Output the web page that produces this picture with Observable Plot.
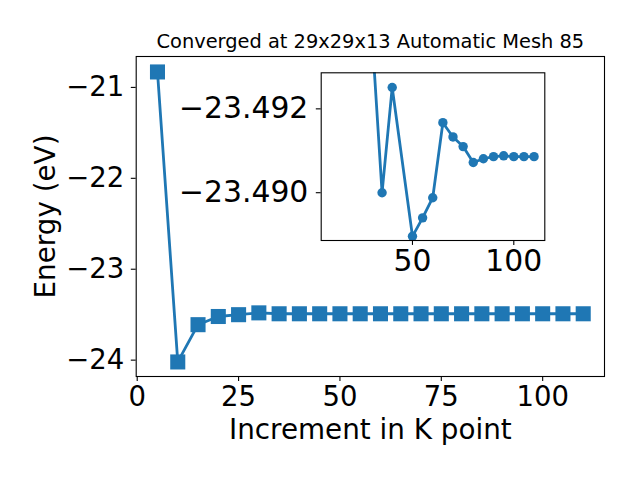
<!DOCTYPE html>
<html>
<head>
<meta charset="utf-8">
<script src="https://cdn.jsdelivr.net/npm/d3@7"></script>
<script src="https://cdn.jsdelivr.net/npm/@observablehq/plot@0.6"></script>
<style>
  html, body { margin: 0; padding: 0; background: white; }
  #wrap { position: relative; width: 640px; height: 480px; overflow: hidden; font-family: "DejaVu Sans", sans-serif; }
  #wrap svg { position: absolute; background: transparent; }
</style>
</head>
<body>
<div id="wrap"></div>
<script>
// ---- data ----
const kPoints = [5, 10, 15, 20, 25, 30, 35, 40, 45, 50, 55, 60, 65, 70, 75, 80, 85, 90, 95, 100, 105, 110];
const energy = [-20.83, -24.02, -23.61, -23.52, -23.50, -23.48, -23.49, -23.49, -23.49, -23.49, -23.49,
                -23.49, -23.49, -23.49, -23.49, -23.49, -23.49, -23.49, -23.49, -23.49, -23.49, -23.49];
const xTicks = [0, 25, 50, 75, 100];
const yTicks = [-21, -22, -23, -24];

const insetK = [30, 35, 40, 50, 55, 60, 65, 70, 75, 80, 85, 90, 95, 100, 105, 110];
const insetE = [-23.4938, -23.4900, -23.49251, -23.48896, -23.4894, -23.48988, -23.49167, -23.49133,
                -23.4911, -23.49072, -23.49081, -23.49086, -23.49088, -23.49086, -23.49086, -23.49086];
const insetXTicks = [50, 100];
const insetYTicks = [-23.492, -23.490];

const titleText = "Converged at 29x29x13 Automatic Mesh 85";
const xLabel = "Increment in K point";
const yLabel = "Energy (eV)";

const mainData = kPoints.map((k, i) => ({k, e: energy[i]}));
const insetData = insetK.map((k, i) => ({k, e: insetE[i]}));

const blue = "#1f77b4";
const minus = s => String(s).replace("-", "\u2212");
const FS_TICK = 27.5;
const FS_LABEL = 27.8;
const FS_INSET = 29.8;

// ---- main chart ----
const main = Plot.plot({
  width: 640, height: 480,
  marginLeft: 135.7, marginRight: 36, marginTop: 56, marginBottom: 104,
  style: {fontFamily: "DejaVu Sans", background: "transparent", color: "black", overflow: "visible"},
  x: {domain: [-0.25, 115.25]},
  y: {domain: [-24.18, -20.66]},
  marks: [
    Plot.axisX({ticks: xTicks, tickSize: 4.9, tickPadding: 4.9, fontSize: FS_TICK, label: null,
                tickFormat: d => minus(d), strokeWidth: 1.1}),
    Plot.axisY({ticks: yTicks, tickSize: 4.9, tickPadding: 7, fontSize: FS_TICK, label: null,
                tickFormat: d => minus(d), strokeWidth: 1.1}),
    Plot.line(mainData, {x: "k", y: "e", stroke: blue, strokeWidth: 2.8}),
    Plot.dot(mainData, {x: "k", y: "e", symbol: "square", r: 8.5, fill: blue, stroke: "none"}),
    Plot.frame({stroke: "black", strokeWidth: 1.1}),
    Plot.text([titleText], {frameAnchor: "top", lineAnchor: "middle", dy: -15, fontSize: 19.4, fill: "black"}),
    Plot.text([xLabel], {frameAnchor: "bottom", lineAnchor: "middle", dy: 54, fontSize: FS_LABEL, fill: "black"}),
    Plot.text([yLabel], {frameAnchor: "left", textAnchor: "middle", lineAnchor: "middle", dx: -90, rotate: -90,
                         fontSize: FS_LABEL, fill: "black"})
  ]
});
main.style.left = "0px";
main.style.top = "0px";

// ---- inset ----
const inset = Plot.plot({
  width: 400, height: 220,
  marginLeft: 160.7, marginRight: 15.7, marginTop: 12.3, marginBottom: 40,
  style: {fontFamily: "DejaVu Sans", background: "transparent", color: "black", overflow: "visible"},
  x: {domain: [4.96, 115.3]},
  y: {domain: [-23.48886, -23.49286]},
  marks: [
    Plot.frame({fill: "white", stroke: "none"}),
    Plot.axisX({ticks: insetXTicks, tickSize: 4.9, tickPadding: 4.9, fontSize: FS_INSET, label: null,
                tickFormat: d => String(d), strokeWidth: 1.1}),
    Plot.axisY({ticks: insetYTicks, tickSize: 4.9, tickPadding: 8, fontSize: FS_INSET, label: null,
                tickFormat: d => minus(d3.format(".3f")(d)), strokeWidth: 1.1}),
    Plot.line(insetData, {x: "k", y: "e", stroke: blue, strokeWidth: 2.8, clip: true}),
    Plot.dot(insetData, {x: "k", y: "e", r: 4.7, fill: blue, stroke: "none", clip: true}),
    Plot.frame({stroke: "black", strokeWidth: 1.1})
  ]
});
inset.style.left = "160px";
inset.style.top = "60px";

const wrap = document.getElementById("wrap");
wrap.appendChild(main);
wrap.appendChild(inset);
</script>
</body>
</html>
